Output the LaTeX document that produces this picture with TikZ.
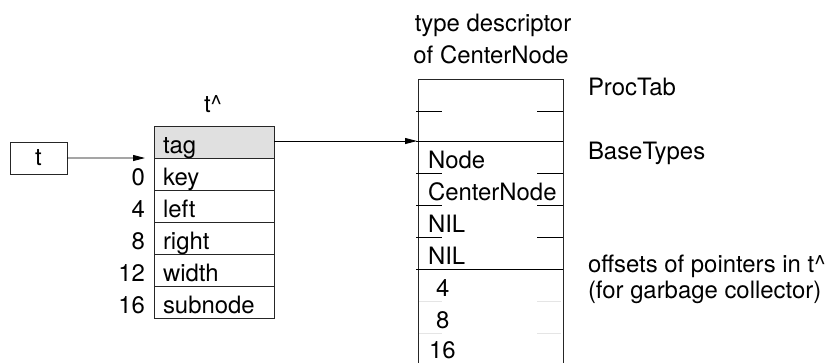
\documentclass[tikz,border=0pt]{standalone}
\usepackage{fontspec}
\setmainfont{TeX Gyre Heros}
\usetikzlibrary{arrows.meta}
\begin{document}
\begin{tikzpicture}[x=1bp,y=-1bp,
  every node/.style={font=\fontsize{24}{28}\selectfont, inner sep=0pt, outer sep=0pt},
  boxline/.style={draw=black!85, line width=0.9bp},
  field/.style={boxline, minimum width=120bp, minimum height=32bp, anchor=north west},
  tagfield/.style={field, fill=black!12},
  txt/.style={anchor=base west},
  num/.style={anchor=base east},
  tick/.style={draw=black, line width=0.9bp},
  faint/.style={draw=black!10, line width=0.9bp},
  ptr/.style={draw=black, line width=0.9bp, -{Triangle[length=12bp,width=6bp]}}]
\useasboundingbox (0,0) rectangle (836,362);
% pointer variable
\node[boxline, minimum width=57bp, minimum height=32bp, anchor=north west] (t) at (10,142) {};
\node (tlabel) at (t.center) {t};
% record t^
\node[anchor=base] (theading) at (213,112) {t\^{}};
\node[tagfield] (ftag) at (154,126) {};
\node[field] (fkey) at (154,158) {};
\node[field] (fleft) at (154,190) {};
\node[field] (fright) at (154,222) {};
\node[field] (fwidth) at (154,254) {};
\node[field] (fsub) at (154,286) {};
\node[txt] (ttag) at (163,153) {tag};
\node[txt] (tkey) at (163,185) {key};
\node[txt] (tleft) at (163,217) {left};
\node[txt] (tright) at (163,249) {right};
\node[txt] (twidth) at (163,281) {width};
\node[txt] (tsub) at (163,313) {subnode};
\node[num] (o0) at (145,185) {0};
\node[num] (o4) at (145,217) {4};
\node[num] (o8) at (145,249) {8};
\node[num] (o12) at (145,281) {12};
\node[num] (o16) at (145,313) {16};
% type descriptor
\node[anchor=base] (dtitle1) at (493,31) {type descriptor};
\node[anchor=base] (dtitle2) at (491,63) {of CenterNode};
\node[boxline, minimum width=145bp, minimum height=300bp, anchor=north west] (desc) at (418,79) {};
\foreach \yy in {111,173,205,237}{
  \draw[tick] (416,\yy) -- (442,\yy);
  \draw[tick] (537,\yy) -- (563,\yy);
}
\foreach \yy in {301,333}{
  \draw[faint] (419,\yy) -- (442,\yy);
  \draw[faint] (537,\yy) -- (561,\yy);
}
\draw[tick] (416,141) -- (563,141);
\draw[tick] (416,269) -- (563,269);
\node[txt] (dnode) at (428,168) {Node};
\node[txt] (dcn) at (428,200) {CenterNode};
\node[txt] (dnil1) at (428,232) {NIL};
\node[txt] (dnil2) at (428,264) {NIL};
\node[txt] (d4) at (436,296) {4};
\node[txt] (d8) at (436,328) {8};
\node[txt] (d16) at (429,358) {16};
% side labels
\node[txt] (lproc) at (588,95) {ProcTab};
\node[txt] (lbase) at (588,159) {BaseTypes};
\node[txt] (loff1) at (588,272) {offsets of pointers in t\^{}};
\node[txt] (loff2) at (588,298) {(for garbage collector)};
% pointers
\coordinate (ttarget) at (145,158);
\coordinate (dtarget) at (417,141);
\draw[ptr] (t.east) -- (ttarget);
\draw[ptr] (ftag.east |- dtarget) -- (dtarget);
\end{tikzpicture}
\end{document}
